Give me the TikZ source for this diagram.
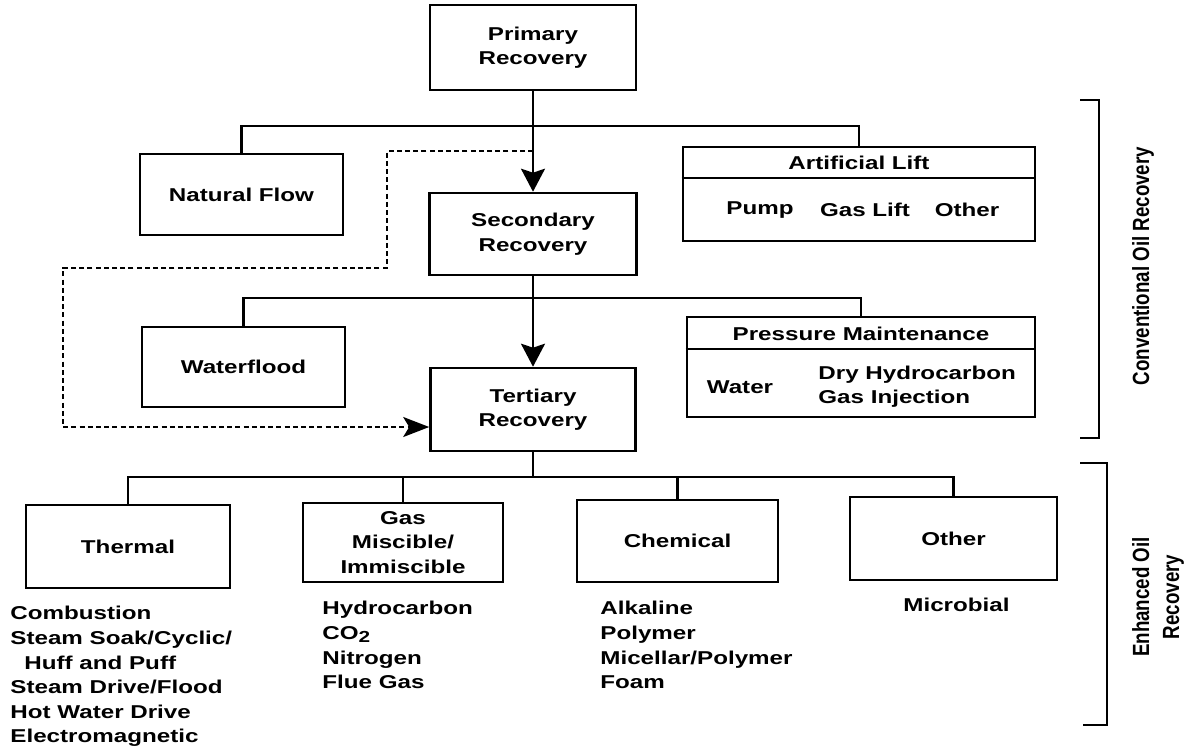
\documentclass[tikz,border=0pt]{standalone}
\usepackage{fontspec}
\setmainfont{Liberation Sans}[FakeStretch=1.3]
\newfontfamily\condfont{Liberation Sans}[FakeStretch=0.8]
\usetikzlibrary{arrows.meta,calc}
\begin{document}
\begin{tikzpicture}[x=0.5pt,y=-0.5pt,
  every node/.style={font=\fontsize{9.3}{12.3}\selectfont\bfseries, inner sep=0pt},
  box/.style={draw, line width=1.3pt, align=center},
  conn/.style={line width=1.2pt},
  tip/.style={-{Stealth[length=11.5pt,width=12pt,inset=2pt]}},
  dottip/.style={-{Stealth[length=13pt,width=10pt,inset=3pt]}},
  dotline/.style={line width=1.1pt, dash pattern=on 2.5pt off 1.6pt},
  lst/.style={align=left, anchor=north west},
  side/.style={font=\condfont\fontsize{11.7}{15}\selectfont\bfseries, rotate=90, align=center},
  brk/.style={line width=1.1pt}]
\useasboundingbox (0,0) rectangle (1199,751);

% main column
\node[box, minimum width=103pt, minimum height=42.5pt] (prim) at (533,47.5) {Primary\\Recovery};
\node[box, minimum width=103.5pt, minimum height=41pt] (sec) at (533,234) {Secondary\\Recovery};
\node[box, minimum width=102.5pt, minimum height=41.5pt] (tert) at (533,409.5) {Tertiary\\Recovery};

% side boxes
\node[box, minimum width=101.5pt, minimum height=40.5pt] (nat) at (241.5,194.5) {Natural Flow};
\node[box, minimum width=101.5pt, minimum height=40pt] (wat) at (243.5,367) {Waterflood};
\node[box, minimum width=176pt, minimum height=47pt] (art) at (859,194) {};
\node[box, minimum width=174pt, minimum height=50pt] (press) at (861,367) {};
\draw[line width=1.2pt] ([yshift=-16pt]art.north west) -- ([yshift=-16pt]art.north east);
\draw[line width=1.2pt] ([yshift=-16.5pt]press.north west) -- ([yshift=-16.5pt]press.north east);
\node (artT) at (859,163) {Artificial Lift};
\node (pump) at (760,210) {Pump};
\node (gaslift) at (865,210) {Gas Lift};
\node (othA) at (967,210) {Other};
\node (pressT) at (861,333.5) {Pressure Maintenance};
\node (pw) at (740,387) {Water};
\node[anchor=west, align=left] (pdry) at (818,386.5) {Dry Hydrocarbon\\Gas Injection};

% EOR boxes
\node[box, minimum width=102pt, minimum height=41.5pt] (therm) at (128,546.5) {Thermal};
\node[box, minimum width=100pt, minimum height=39.5pt] (gas) at (403,542.5) {Gas\\Miscible/\\Immiscible};
\node[box, minimum width=100.5pt, minimum height=41pt] (chem) at (677.5,541) {Chemical};
\node[box, minimum width=103.5pt, minimum height=41.5pt] (oth) at (953.5,538.5) {Other};

% lists
\node[lst] (lth) at (10,606) {Combustion\\Steam Soak/Cyclic/\\\hspace*{0.75em}Huff and Puff\\Steam Drive/Flood\\Hot Water Drive\\Electromagnetic};
\node[lst] (lgas) at (322,601) {Hydrocarbon\\CO\raisebox{-0.35ex}{\fontsize{8}{8}\selectfont 2}\\Nitrogen\\Flue Gas};
\node[lst] (lchem) at (600,601) {Alkaline\\Polymer\\Micellar/Polymer\\Foam};
\node[lst] (loth) at (903,598) {Microbial};

% junctions
\coordinate (j1) at (533,126);
\coordinate (j2) at (533,298);
\coordinate (j3) at (533,477);

% connectors
\draw[conn, tip] (prim) -- (sec);
\draw[conn, tip] (sec) -- (tert);
\draw[conn] (nat.north) |- (j1) -| (art.north);
\draw[conn] (wat.north) |- (j2) -| (press.north);
\draw[conn] (tert) -- (j3);
\draw[conn] (therm.north) |- (j3) -| (oth.north);
\draw[conn] (j3) -| (gas.north);
\draw[conn] (j3) -| (chem.north);

% dotted bypass
\coordinate (d0) at (533,151);
\coordinate (d1) at (387,151);
\coordinate (d2) at (387,268);
\coordinate (d3) at (63,268);
\coordinate (d4) at (63,427);
\coordinate (d5) at ($(tert.west)+(0,17.5)$);
\draw[dotline, dottip] (d0) -- (d1) -- (d2) -- (d3) -- (d4) -- (d5);

% brackets
\draw[brk] (1080,100) -- (1099,100) -- (1099,438) -- (1080,438);
\draw[brk] (1080,463) -- (1107,463) -- (1107,725) -- (1083,725);
\node[side] (conv) at (1143,266) {Conventional Oil Recovery};
\node[side] (eor) at (1158,597) {Enhanced Oil\\Recovery};
\end{tikzpicture}
\end{document}
